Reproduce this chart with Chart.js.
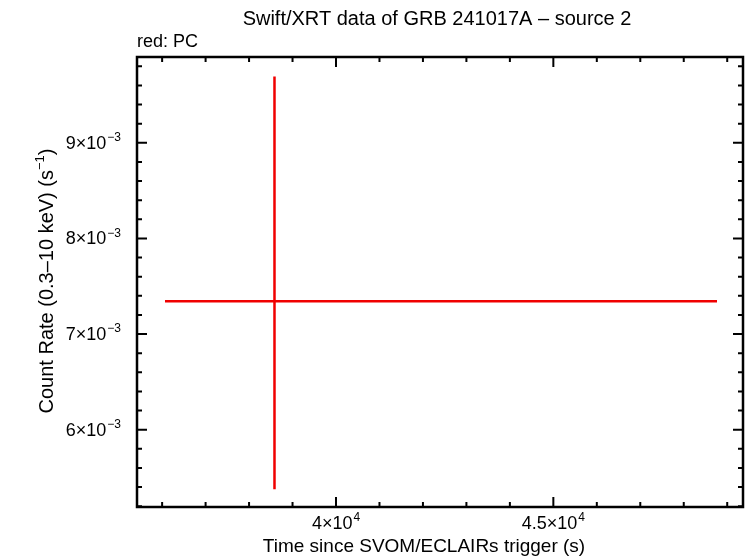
<!DOCTYPE html>
<html>
<head>
<meta charset="utf-8">
<script src="https://cdn.jsdelivr.net/npm/chart.js@4/dist/chart.umd.min.js"></script>
<style>
  html, body { margin: 0; padding: 0; background: #fff; }
</style>
</head>
<body>
<canvas id="chart" width="746" height="558"></canvas>
<script>
// ---- DATA ----
const timeVal = [38585];
const timeLo  = [36066];
const timeHi  = [48765];
const rateVal = [0.007344];
const rateLo  = [0.005377];
const rateHi  = [0.009695];

// ---- AXES ----
const xRange = [35422, 49363];
const yRange = [0.005191, 0.009898];
const xMajor = [40000, 45000];
const xMajorLabels = [['4×10', '4'], ['4.5×10', '4']];
const xMinorStep = 1000;
const yMajor = [0.006, 0.007, 0.008, 0.009];
const yMajorLabels = [['6×10', '−3'], ['7×10', '−3'], ['8×10', '−3'], ['9×10', '−3']];
const yMinorStep = 0.0002;

const FONT = '"Liberation Sans", Arial, Helvetica, sans-serif';
const RED = '#f00000';

// label with superscript exponent; align: 'center' or 'right'
function drawSup(c, parts, x, y, align) {
  c.font = '18px ' + FONT;
  const w1 = c.measureText(parts[0]).width;
  c.font = '12px ' + FONT;
  const w2 = c.measureText(parts[1]).width;
  const total = w1 + w2 + 1;
  let x0 = align === 'right' ? x - total : x - total / 2;
  c.textBaseline = 'middle';
  c.textAlign = 'left';
  c.font = '18px ' + FONT;
  c.fillText(parts[0], x0, y);
  c.font = '12px ' + FONT;
  c.fillText(parts[1], x0 + w1 + 1, y - 6);
}

const frame = {
  id: 'frame',
  afterDatasetsDraw(chart) {
    const c = chart.ctx;
    const xs = chart.scales.x, ys = chart.scales.y;
    const a = chart.chartArea;

    // error bars
    c.save();
    c.strokeStyle = RED;
    c.lineWidth = 2.5;
    for (let i = 0; i < timeVal.length; i++) {
      const px = xs.getPixelForValue(timeVal[i]);
      const py = ys.getPixelForValue(rateVal[i]);
      c.beginPath();
      c.moveTo(xs.getPixelForValue(timeLo[i]), py);
      c.lineTo(xs.getPixelForValue(timeHi[i]), py);
      c.moveTo(px, ys.getPixelForValue(rateLo[i]));
      c.lineTo(px, ys.getPixelForValue(rateHi[i]));
      c.stroke();
    }
    c.restore();

    // frame + inward ticks on all sides
    c.save();
    c.strokeStyle = '#000';
    c.lineWidth = 2.5;
    c.strokeRect(a.left, a.top, a.right - a.left, a.bottom - a.top);
    c.lineWidth = 2;
    c.beginPath();
    const startX = Math.ceil(xRange[0] / xMinorStep) * xMinorStep;
    for (let v = startX; v < xRange[1]; v += xMinorStep) {
      const px = xs.getPixelForValue(v);
      const len = xMajor.includes(v) ? 10 : 5;
      c.moveTo(px, a.bottom); c.lineTo(px, a.bottom - len);
      c.moveTo(px, a.top); c.lineTo(px, a.top + len);
    }
    const nY = Math.round((yRange[1] - yRange[0]) / yMinorStep) + 1;
    for (let k = 0; k <= nY; k++) {
      const v = Math.ceil(yRange[0] / yMinorStep - 1e-6) * yMinorStep + k * yMinorStep;
      if (v > yRange[1]) break;
      const py = ys.getPixelForValue(v);
      const major = yMajor.some(m => Math.abs(m - v) < 1e-9);
      const len = major ? 10 : 5;
      c.moveTo(a.left, py); c.lineTo(a.left + len, py);
      c.moveTo(a.right, py); c.lineTo(a.right - len, py);
    }
    c.stroke();

    // tick labels
    c.fillStyle = '#000';
    xMajor.forEach((v, i) => drawSup(c, xMajorLabels[i], xs.getPixelForValue(v), a.bottom + 17, 'center'));
    yMajor.forEach((v, i) => drawSup(c, yMajorLabels[i], a.left - 16, ys.getPixelForValue(v) + 1, 'right'));

    // titles
    c.textAlign = 'center';
    c.textBaseline = 'middle';
    c.font = '20px ' + FONT;
    c.fillText('Swift/XRT data of GRB 241017A \u2013 source 2', 437, 19);
    c.font = '19px ' + FONT;
    c.fillText('Time since SVOM/ECLAIRs trigger (s)', 424, 547);
    c.textAlign = 'left';
    c.font = '18px ' + FONT;
    c.fillText('red: PC', a.left, 42);

    // y title with superscript
    c.translate(47, 281);
    c.rotate(-Math.PI / 2);
    const base = 'Count Rate (0.3\u201310 keV) (s';
    c.font = '20px ' + FONT;
    const wb = c.measureText(base).width;
    c.font = '13px ' + FONT;
    const ws = c.measureText('\u22121').width;
    c.font = '20px ' + FONT;
    const wc = c.measureText(')').width;
    const tot = wb + ws + wc;
    let x0 = -tot / 2;
    c.textAlign = 'left';
    c.fillText(base, x0, 0);
    c.font = '13px ' + FONT;
    c.fillText('\u22121', x0 + wb, -7);
    c.font = '20px ' + FONT;
    c.fillText(')', x0 + wb + ws, 0);
    c.restore();
  }
};

new Chart(document.getElementById('chart'), {
  type: 'scatter',
  data: {
    datasets: [{
      data: timeVal.map((t, i) => ({ x: t, y: rateVal[i] })),
      pointRadius: 0,
      borderColor: RED
    }]
  },
  options: {
    responsive: false,
    animation: false,
    devicePixelRatio: 1,
    layout: { padding: { left: 137, right: 3, top: 57, bottom: 51 } },
    scales: {
      x: { type: 'linear', display: false, min: xRange[0], max: xRange[1] },
      y: { type: 'linear', display: false, min: yRange[0], max: yRange[1] }
    },
    plugins: { legend: { display: false }, tooltip: { enabled: false } }
  },
  plugins: [frame]
});
</script>
</body>
</html>
